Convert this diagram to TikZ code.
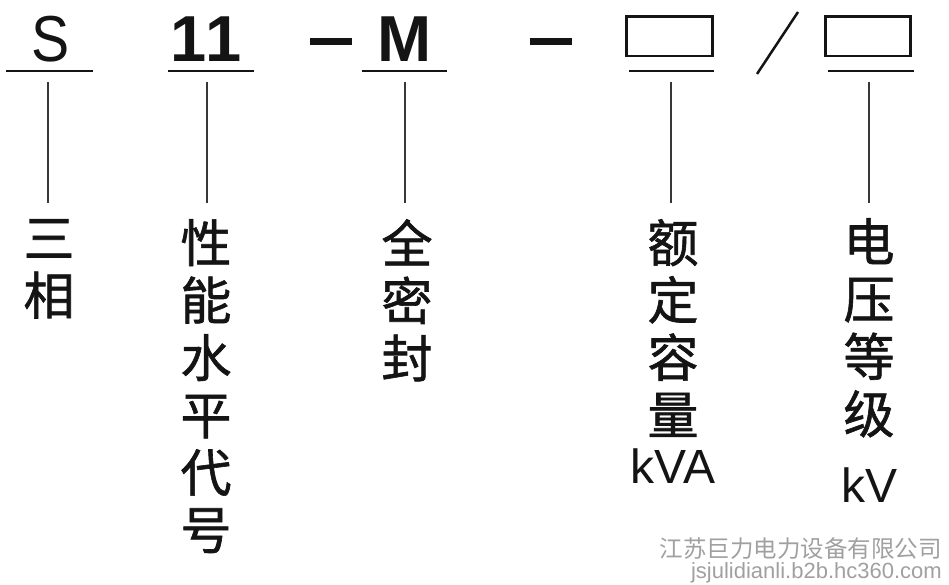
\documentclass[tikz,border=0pt]{standalone}
\usepackage{fontspec}
\setmainfont{Liberation Sans}
\newfontfamily\cjk{Noto Sans CJK SC}[FakeBold=1.2]
\newfontfamily\cjkwm{Noto Sans CJK SC}
\definecolor{wmgrey}{RGB}{160,160,160}
\definecolor{ink}{RGB}{20,20,20}
\tikzset{
  code/.style={inner sep=0pt, anchor=base, text=ink, font=\fontsize{65}{65}\selectfont},
  codeb/.style={code, font=\fontsize{65}{65}\bfseries\selectfont},
  uline/.style={line width=2pt, draw=ink},
  vline/.style={line width=2pt, draw=ink!85},
  dashbar/.style={line width=7pt, draw=ink},
  blank/.style={line width=2.6pt, draw=ink},
  desc/.style={inner sep=0pt, anchor=north, align=center, text=ink, font=\cjk\fontsize{51}{57.4}\selectfont},
  unit/.style={inner sep=0pt, anchor=base, text=ink, font=\fontsize{48}{48}\selectfont},
  wm/.style={inner sep=0pt, anchor=base east, text=wmgrey}
}
\begin{document}
\begin{tikzpicture}[x=1pt,y=-1pt]
\useasboundingbox (0,0) rectangle (949,585);
% codes
\node[code, xscale=0.88] (s) at (51,62) {S};
\node[codeb] (n11) at (206,62) {1\kern-2pt 1};
\node[codeb] (m) at (405,62) {M};
\draw[dashbar] (310,42) -- (352,42);
\draw[dashbar] (530,42) -- (572,42);
\draw[blank] (626.3,16.3) rectangle (712.7,56.2);
\draw[blank] (825.3,16.3) rectangle (910.7,56.2);
\draw[line width=2.5pt, draw=ink] (757,74) -- (798,12);
% underlines
\draw[uline] (6,71) -- (93,71);
\draw[uline] (168,71) -- (254,71);
\draw[uline] (362,71) -- (447,71);
\draw[uline] (629,71) -- (714,71);
\draw[uline] (828,71) -- (914,71);
% vertical lines
\coordinate (a1) at (48,82);  \coordinate (b1) at (48,203);
\coordinate (a2) at (207,82); \coordinate (b2) at (207,203);
\coordinate (a3) at (405,82); \coordinate (b3) at (405,203);
\coordinate (a4) at (671,82); \coordinate (b4) at (671,203);
\coordinate (a5) at (869,82); \coordinate (b5) at (869,203);
\draw[vline] (a1) -- (b1);
\draw[vline] (a2) -- (b2);
\draw[vline] (a3) -- (b3);
\draw[vline] (a4) -- (b4);
\draw[vline] (a5) -- (b5);
% descriptions
\node[desc] (d1) at (49,219) {三\\相};
\node[desc] (d2) at (206,219) {性\\能\\水\\平\\代\\号};
\node[desc] (d3) at (407,219) {全\\密\\封};
\node[desc] (d4) at (673,219) {额\\定\\容\\量};
\node[desc] (d5) at (869,218) {电\\压\\等\\级};
\node[unit] (u4) at (673,483) {kVA};
\node[unit] (u5) at (869,502) {kV};
% watermark
\node[wm, font=\cjkwm\fontsize{23.5}{23.5}\selectfont] (w1) at (942,557) {江苏巨力电力设备有限公司};
\node[wm, font=\fontsize{22}{22}\selectfont] (w2) at (942,578) {jsjulidianli.b2b.hc360.com};
\end{tikzpicture}
\end{document}
